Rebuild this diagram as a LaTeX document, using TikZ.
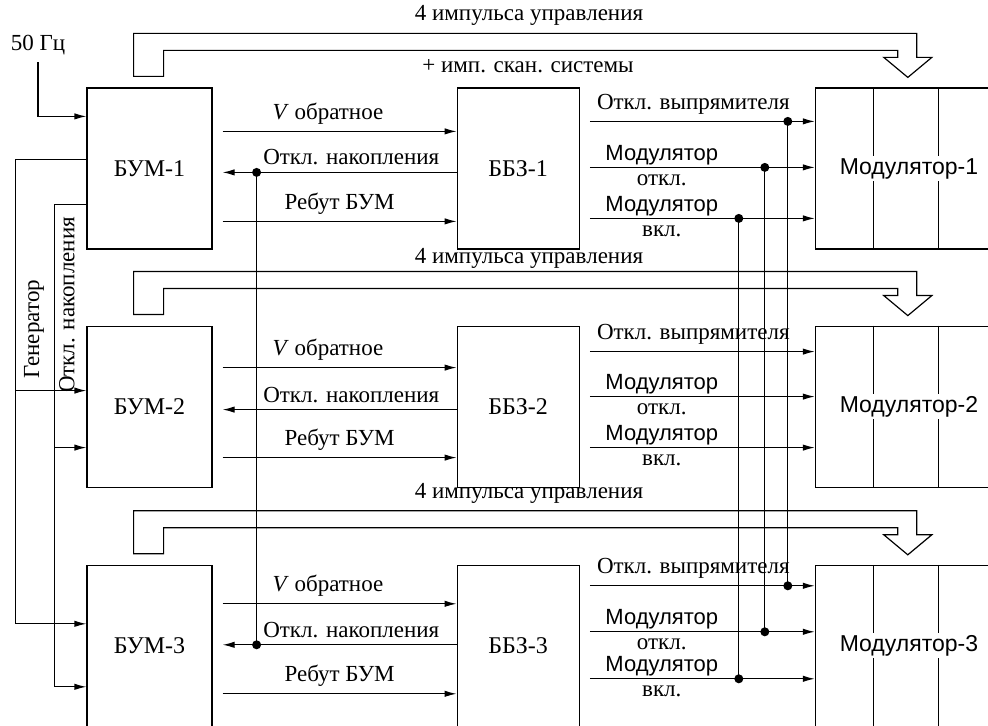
\documentclass[tikz,border=0pt]{standalone}
\usepackage{fontspec}
\setmainfont{Liberation Serif}
\setsansfont{Liberation Sans}
\usepackage{tikz}
\usetikzlibrary{arrows.meta, calc, positioning}

\begin{document}
\begin{tikzpicture}[
    x=0.5pt, y=-0.5pt,
    >={Latex[length=6pt,width=3.2pt]},
    line width=0.6pt,
    every node/.style={font=\fontsize{11.5}{13}\selectfont},
    block/.style={draw, rectangle, minimum width=62.5pt, minimum height=80.5pt, align=center, font=\fontsize{12}{14}\selectfont},
    mblock/.style={draw, rectangle, minimum width=93.5pt, minimum height=80.5pt},
    mtext/.style={fill=white, inner sep=1pt, font=\sffamily\fontsize{11.5}{13}\selectfont},
    stext/.style={font=\sffamily\fontsize{11}{13}\selectfont, inner sep=1pt},
    signal/.style={->},
    dot/.style={circle, fill, inner sep=0pt, minimum size=4.5pt}
]
    \useasboundingbox (0,0) rectangle (988,726);

    % Blocks
    \node [block] (BUM1) at (149.5,168.5) {БУМ-1};
    \node [block, below=38pt of BUM1] (BUM2) {БУМ-2};
    \node [block, below=38.5pt of BUM2] (BUM3) {БУМ-3};
    \node [block, minimum width=61pt, right=122pt of BUM1] (BBZ1) {ББЗ-1};
    \node [block, minimum width=61pt, right=122pt of BUM2] (BBZ2) {ББЗ-2};
    \node [block, minimum width=61pt, right=122pt of BUM3] (BBZ3) {ББЗ-3};
    \node [mblock, right=117.5pt of BBZ1] (Mod1) {};
    \node [mblock, right=117.5pt of BBZ2] (Mod2) {};
    \node [mblock, right=117.5pt of BBZ3] (Mod3) {};

    % Modulator sections
    \draw ($(Mod1.north west)+(59,0)$) -- ($(Mod1.south west)+(59,0)$);
    \draw ($(Mod1.north west)+(124,0)$) -- ($(Mod1.south west)+(124,0)$);
    \draw ($(Mod2.north west)+(59,0)$) -- ($(Mod2.south west)+(59,0)$);
    \draw ($(Mod2.north west)+(124,0)$) -- ($(Mod2.south west)+(124,0)$);
    \draw ($(Mod3.north west)+(59,0)$) -- ($(Mod3.south west)+(59,0)$);
    \draw ($(Mod3.north west)+(124,0)$) -- ($(Mod3.south west)+(124,0)$);
    \node [mtext] (Mod1txt) at (Mod1) {Модулятор-1};
    \node [mtext] (Mod2txt) at (Mod2) {Модулятор-2};
    \node [mtext] (Mod3txt) at (Mod3) {Модулятор-3};

    % 1. Control pulse buses (wide arrows)
    \coordinate (tip1) at ($(Mod1.north west)+(93,-10)$);
    \coordinate (tip2) at ($(Mod2.north west)+(93,-10)$);
    \coordinate (tip3) at ($(Mod3.north west)+(93,-10)$);
    \draw ($(BUM1.north east)+(-79,-11)$) -- ++(0,-43) -| ($(tip1)+(9,-20)$) -- ++(15,0) -- (tip1) -- ++(-24,-20) -- ++(14,0) |- ($(BUM1.north east)+(-49,-37)$) -- ++(0,26) -- cycle;
    \draw ($(BUM2.north east)+(-79,-11)$) -- ++(0,-43) -| ($(tip2)+(9,-20)$) -- ++(15,0) -- (tip2) -- ++(-24,-20) -- ++(14,0) |- ($(BUM2.north east)+(-49,-37)$) -- ++(0,26) -- cycle;
    \draw ($(BUM3.north east)+(-79,-11)$) -- ++(0,-43) -| ($(tip3)+(9,-20)$) -- ++(15,0) -- (tip3) -- ++(-24,-20) -- ++(14,0) |- ($(BUM3.north east)+(-49,-37)$) -- ++(0,26) -- cycle;
    \node (Ctl1) at (529,15) {4 импульса управления};
    \node (Scan) at (528,66) {+ имп. скан. системы};
    \node (Ctl2) at (529,258) {4 импульса управления};
    \node (Ctl3) at (529,493) {4 импульса управления};

    % 2. External inputs
    \node (Hz) at (38,45) {50 Гц};
    \draw [signal] (Hz.south) |- ($(BUM1.north west)+(0,29)$);

    % Generator line down the left side
    \draw [signal] ($(BUM1.north west)+(0,72)$) -- ++(-71,0) coordinate (gen_bus) |- ($(BUM3.north west)+(0,59)$);
    \coordinate (gen_in2) at ($(BUM2.north west)+(0,65)$);
    \draw [signal] (gen_bus |- gen_in2) -- (gen_in2);
    \node [rotate=90] (GenLbl) at (34,329) {Генератор};

    % Storage-off line
    \draw [signal] ($(BUM1.north west)+(0,117)$) -- ++(-32,0) coordinate (nak_bus) |- ($(BUM3.north west)+(0,122)$);
    \coordinate (nak_in2) at ($(BUM2.north west)+(0,122)$);
    \draw [signal] (nak_bus |- nak_in2) -- (nak_in2);
    \node [rotate=90] (NakLbl) at (67,305) {Откл. накопления};

    % 3. BUM <-> BBZ signals
    \draw [signal] ($(BUM1.north east)+(10,44)$) -- node[above, pos=0.45] {\textit{V} обратное} ($(BBZ1.north west)+(0,44)$);
    \draw [signal] ($(BBZ1.north west)+(0,85)$) -- node[above, pos=0.45] {Откл. накопления} ($(BUM1.north east)+(10,85)$);
    \draw [signal] ($(BUM1.north east)+(10,134)$) -- node[above] {Ребут БУМ} ($(BBZ1.north west)+(0,134)$);

    \draw [signal] ($(BUM2.north east)+(10,42)$) -- node[above, pos=0.45] {\textit{V} обратное} ($(BBZ2.north west)+(0,42)$);
    \draw [signal] ($(BBZ2.north west)+(0,84)$) -- node[above, pos=0.45] {Откл. накопления} ($(BUM2.north east)+(10,84)$);
    \draw [signal] ($(BUM2.north east)+(10,132)$) -- node[above] {Ребут БУМ} ($(BBZ2.north west)+(0,132)$);

    \draw [signal] ($(BUM3.north east)+(10,39)$) -- node[above, pos=0.45] {\textit{V} обратное} ($(BBZ3.north west)+(0,39)$);
    \draw [signal] ($(BBZ3.north west)+(0,80)$) -- node[above, pos=0.45] {Откл. накопления} ($(BUM3.north east)+(10,80)$);
    \draw [signal] ($(BUM3.north east)+(10,129)$) -- node[above] {Ребут БУМ} ($(BBZ3.north west)+(0,129)$);

    % Tie between the storage-off lines
    \draw ($(BUM1.north east)+(44,85)$) node[dot] {} -- ($(BUM3.north east)+(44,80)$) node[dot] {};

    % 4. BBZ -> Modulator signals
    \draw [signal] ($(BBZ1.north east)+(10,34)$) -- node[above, pos=0.46] {Откл. выпрямителя} ($(Mod1.north west)+(0,34)$);
    \draw [signal] ($(BBZ1.north east)+(10,80)$) -- node[above, pos=0.32, stext] {Модулятор} node[below, pos=0.32] {откл.} ($(Mod1.north west)+(0,80)$);
    \draw [signal] ($(BBZ1.north east)+(10,131)$) -- node[above, pos=0.32, stext] {Модулятор} node[below, pos=0.32] {вкл.} ($(Mod1.north west)+(0,131)$);

    \draw [signal] ($(BBZ2.north east)+(10,26)$) -- node[above, pos=0.46] {Откл. выпрямителя} ($(Mod2.north west)+(0,26)$);
    \draw [signal] ($(BBZ2.north east)+(10,71)$) -- node[above, pos=0.32, stext] {Модулятор} node[below, pos=0.32] {откл.} ($(Mod2.north west)+(0,71)$);
    \draw [signal] ($(BBZ2.north east)+(10,122)$) -- node[above, pos=0.32, stext] {Модулятор} node[below, pos=0.32] {вкл.} ($(Mod2.north west)+(0,122)$);

    \draw [signal] ($(BBZ3.north east)+(10,21)$) -- node[above, pos=0.46] {Откл. выпрямителя} ($(Mod3.north west)+(0,21)$);
    \draw [signal] ($(BBZ3.north east)+(10,67)$) -- node[above, pos=0.32, stext] {Модулятор} node[below, pos=0.32] {откл.} ($(Mod3.north west)+(0,67)$);
    \draw [signal] ($(BBZ3.north east)+(10,114)$) -- node[above, pos=0.32, stext] {Модулятор} node[below, pos=0.32] {вкл.} ($(Mod3.north west)+(0,114)$);

    % Ties between modulator rows
    \draw ($(Mod1.north west)+(-27,34)$) node[dot] {} -- ($(Mod3.north west)+(-27,21)$) node[dot] {};
    \draw ($(Mod1.north west)+(-50,80)$) node[dot] {} -- ($(Mod3.north west)+(-50,67)$) node[dot] {};
    \draw ($(Mod1.north west)+(-76,131)$) node[dot] {} -- ($(Mod3.north west)+(-76,114)$) node[dot] {};

\end{tikzpicture}
\end{document}
